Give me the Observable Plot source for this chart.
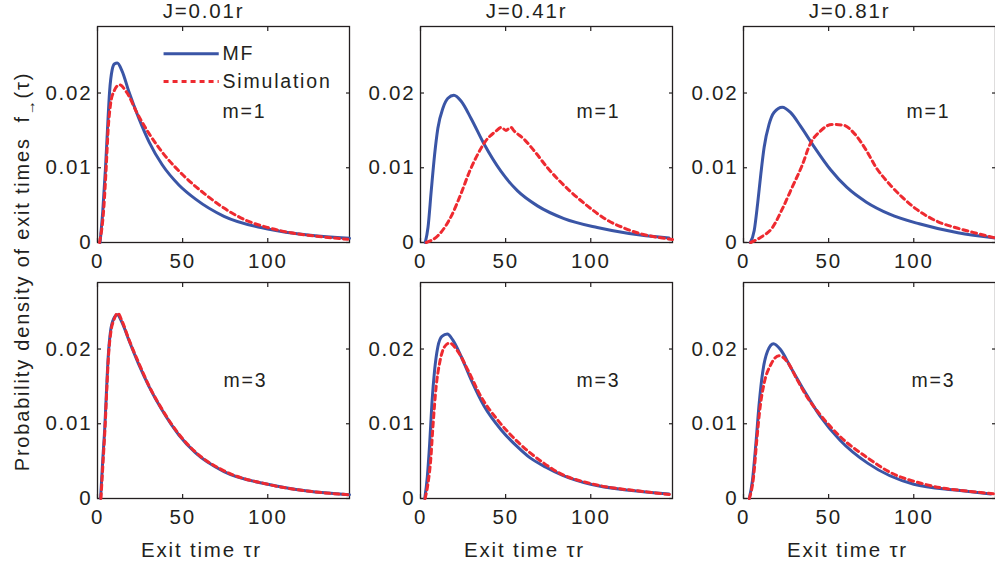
<!DOCTYPE html>
<html>
<head>
<meta charset="utf-8">
<script src="https://cdn.jsdelivr.net/npm/d3@7"></script>
<script src="https://cdn.jsdelivr.net/npm/@observablehq/plot@0.6"></script>
<style>
  html, body { margin: 0; padding: 0; background: #fff; }
  #chart { width: 995px; height: 569px; overflow: hidden; }
</style>
</head>
<body>
<div id="chart"></div>
<script>
// ---- categories ----
const Jlabels = ["0.01", "0.41", "0.81"];
const mValues = [1, 3];
const xTicks = [0, 50, 100];
const yTicks = [0, 0.01, 0.02];

// ---- series values: [tau*r, density] ----
const mf_J001_m1 = [[1.5,0],[3.1,0.0042],[4.7,0.0100],[5.9,0.0153],[7.1,0.0202],[8.6,0.0231],[10,0.0239],[11.6,0.0240],[14.5,0.0229],[18.4,0.0202],[24.3,0.0166],[30.2,0.0135],[38,0.0104],[47.8,0.0077],[57.6,0.0058],[74.3,0.0035],[100,0.0018],[125,0.00096],[148,0.00056]];
const sim_J001_m1 = [[1.2,0],[3.7,0.0046],[5.1,0.0100],[6.3,0.0153],[7.6,0.0184],[9.6,0.0202],[12.9,0.0211],[17.4,0.0200],[23.3,0.0173],[30.2,0.0146],[39,0.0118],[50.8,0.0089],[63.5,0.0064],[74.3,0.0046],[88,0.0029],[100,0.0020],[113.5,0.0013],[130,0.0008],[147,0.00043]];

const mf_J041_m1 = [[2.8,0],[4.4,0.0020],[6.3,0.0069],[8.3,0.0118],[10.2,0.0153],[13.2,0.0180],[16.1,0.0193],[19.6,0.0197],[23.9,0.0189],[29.7,0.0166],[37.5,0.0131],[47.3,0.0095],[57,0.0069],[68.7,0.0049],[84.3,0.0032],[103.8,0.0020],[122.5,0.0012],[146,0.0006]];
const sim_J041_m1 = [[3.4,0],[10.2,0.0009],[18,0.0035],[23.9,0.0066],[28.8,0.0095],[33.6,0.0118],[38,0.0135],[44.3,0.0149],[47.5,0.0154],[50.2,0.0150],[53,0.0154],[55.1,0.0149],[60.9,0.0138],[67.7,0.0120],[74.6,0.0100],[81.4,0.0083],[88.2,0.0068],[98,0.0049],[108.9,0.0031],[120,0.0019],[130.3,0.0011],[142,0.0006],[148,0.0004]];

const mf_J081_m1 = [[4,0],[6.3,0.0016],[8.3,0.0052],[10.2,0.0092],[12.1,0.0127],[15,0.0158],[17.9,0.0174],[22.8,0.0181],[27.6,0.0174],[33.4,0.0156],[41.2,0.0129],[50.9,0.0098],[60.6,0.0074],[72.2,0.0054],[85.8,0.0038],[103.2,0.0025],[125.9,0.0013],[148,0.0006]];
const sim_J081_m1 = [[4.2,0],[10.2,0.0007],[17,0.0020],[22.8,0.0045],[28.6,0.0074],[34.4,0.0103],[39.2,0.0132],[45.1,0.0149],[51.9,0.0158],[58.6,0.0157],[65.4,0.0145],[72.2,0.0123],[78,0.0100],[85.8,0.0078],[93.5,0.0060],[101.3,0.0045],[114,0.0028],[125.9,0.0019],[137.5,0.0012],[148,0.0006]];

const mf_J001_m3 = [[1.8,0],[3.1,0.0052],[4.3,0.0096],[5.3,0.0145],[6.3,0.0190],[7.6,0.0223],[9.6,0.0241],[11.6,0.0246],[14.5,0.0235],[18.4,0.0212],[24.3,0.0179],[30.2,0.0150],[38,0.0118],[47.8,0.0085],[57.6,0.0061],[74.3,0.0036],[100,0.0019],[123.3,0.0010],[148,0.0005]];
const sim_J001_m3 = [[2,0],[3.3,0.0050],[4.5,0.0098],[5.5,0.0148],[6.5,0.0192],[7.8,0.0222],[9.8,0.0240],[11.8,0.0248],[14.5,0.0237],[18.4,0.0213],[24.3,0.0181],[30.2,0.0151],[38,0.0119],[47.8,0.0086],[57.6,0.0062],[74.3,0.0037],[100,0.0019],[123.3,0.0010],[148,0.0005]];

const mf_J041_m3 = [[2.5,0],[4,0.0029],[5.4,0.0074],[6.7,0.0127],[8.3,0.0172],[10.2,0.0203],[12.6,0.0217],[15.7,0.0220],[19,0.0212],[23.9,0.0190],[29.7,0.0159],[37.5,0.0123],[47.3,0.0092],[57,0.0069],[64,0.0055],[73.6,0.0042],[83.5,0.0031],[100,0.0019],[122.5,0.0011],[146,0.0006]];
const sim_J041_m3 = [[2.7,0],[4.4,0.0020],[6,0.0052],[7.3,0.0096],[9.2,0.0150],[11.2,0.0181],[14.1,0.0203],[17.1,0.0208],[21.9,0.0197],[27.8,0.0172],[35.6,0.0136],[45.3,0.0105],[57,0.0076],[72.6,0.0047],[81.6,0.0034],[100,0.0020],[132.3,0.0009],[148,0.0005]];

const mf_J081_m3 = [[3.4,0],[5.3,0.0025],[7.3,0.0074],[9.2,0.0127],[11.2,0.0168],[14.1,0.0197],[17.6,0.0207],[21.8,0.0199],[27.6,0.0176],[35.4,0.0145],[45.1,0.0110],[56.7,0.0078],[73.1,0.0047],[100,0.0019],[125.9,0.0011],[145.2,0.0006]];
const sim_J081_m3 = [[3.4,0],[5.9,0.0029],[7.8,0.0078],[9.8,0.0123],[12.1,0.0154],[16,0.0179],[20.8,0.0191],[25.7,0.0183],[31.5,0.0159],[37.3,0.0136],[45.1,0.0112],[56.7,0.0083],[73.1,0.0054],[85.3,0.0036],[106.5,0.0019],[139.4,0.0008],[148,0.0006]];

// ---- text labels ----
const seriesNames = ["MF", "Simulation"];
const xLabel = "Exit time \u03c4r";
const yLabel = "Probability density of exit times\u00a0\u00a0f\u2192(\u03c4)";

// ---- build the table ----
const seriesList = [
  {J: "0.01", m: 1, kind: "MF", pts: mf_J001_m1}, {J: "0.01", m: 1, kind: "Simulation", pts: sim_J001_m1},
  {J: "0.41", m: 1, kind: "MF", pts: mf_J041_m1}, {J: "0.41", m: 1, kind: "Simulation", pts: sim_J041_m1},
  {J: "0.81", m: 1, kind: "MF", pts: mf_J081_m1}, {J: "0.81", m: 1, kind: "Simulation", pts: sim_J081_m1},
  {J: "0.01", m: 3, kind: "MF", pts: mf_J001_m3}, {J: "0.01", m: 3, kind: "Simulation", pts: sim_J001_m3},
  {J: "0.41", m: 3, kind: "MF", pts: mf_J041_m3}, {J: "0.41", m: 3, kind: "Simulation", pts: sim_J041_m3},
  {J: "0.81", m: 3, kind: "MF", pts: mf_J081_m3}, {J: "0.81", m: 3, kind: "Simulation", pts: sim_J081_m3}
];
const rows = seriesList.flatMap(s => s.pts.map(([t, f]) => ({J: s.J, m: s.m, kind: s.kind, key: s.J + "-" + s.m + "-" + s.kind, t, f})));
const mfRows = rows.filter(d => d.kind === "MF");
const simRows = rows.filter(d => d.kind === "Simulation");

// ---- styles / layout ----
const BLUE = "#3a55a6", RED = "#ee2a30", INK = "#231f20";
const noteLayout = [
  {J: "0.01", m: 1, dx: 125, dy: 85},
  {J: "0.41", m: 1, dx: 156, dy: 85},
  {J: "0.81", m: 1, dx: 163, dy: 85},
  {J: "0.01", m: 3, dx: 126, dy: 98},
  {J: "0.41", m: 3, dx: 156, dy: 98},
  {J: "0.81", m: 3, dx: 168, dy: 98}
];
const legendLayout = {x1: 38.8, x2: 71.2, yMF: 0.02527, ySim: 0.02153, textDx: 125, dyMF: 27, dySim: 55};

const fmtY = d => d === 0 ? "0" : d.toFixed(2);
const axisCommon = {facetAnchor: null, label: null, color: INK};

const marks = [
  Plot.frame({stroke: INK, strokeWidth: 1.3}),
  // inward ticks on all four sides
  Plot.axisX(xTicks, {...axisCommon, anchor: "bottom", tickSize: -4, fill: "none", strokeWidth: 1.2}),
  Plot.axisX(xTicks, {...axisCommon, anchor: "top", tickSize: -4, fill: "none", strokeWidth: 1.2}),
  Plot.axisY(yTicks, {...axisCommon, anchor: "left", tickSize: -4, fill: "none", strokeWidth: 1.2}),
  Plot.axisY(yTicks, {...axisCommon, anchor: "right", tickSize: -4, fill: "none", strokeWidth: 1.2}),
  // tick labels
  Plot.axisX(xTicks, {...axisCommon, anchor: "bottom", tickSize: 0, tickPadding: 11, stroke: "none", fontSize: 20.5}),
  Plot.axisY(yTicks, {...axisCommon, anchor: "left", tickSize: 0, tickPadding: 5, stroke: "none", fontSize: 20.5, tickFormat: fmtY}),
  // curves
  Plot.line(mfRows, {x: "t", y: "f", z: "key", fx: "J", fy: "m", stroke: BLUE, strokeWidth: 3, curve: "monotone-x"}),
  Plot.line(simRows, {x: "t", y: "f", z: "key", fx: "J", fy: "m", stroke: RED, strokeWidth: 3, strokeDasharray: "5,4", curve: "monotone-x"}),
  // column titles
  Plot.text(Jlabels, {fx: d => d, fy: () => 1, text: d => "J=" + d + "r", frameAnchor: "top-left", dx: 106, dy: -9, lineAnchor: "bottom", textAnchor: "middle", fontSize: 20.5, fill: INK}),
  // x-axis label under bottom row
  Plot.text(Jlabels, {fx: d => d, fy: () => 3, text: () => xLabel, frameAnchor: "bottom-left", dx: 104, dy: 52, lineAnchor: "middle", textAnchor: "middle", fontSize: 20.5, fill: INK}),
  // y-axis label
  Plot.text([yLabel], {fx: () => "0.01", fy: () => 1, text: d => d, frameAnchor: "left", rotate: -90, dx: -75, dy: 137, lineAnchor: "middle", textAnchor: "middle", fontSize: 20, fill: INK}),
  // legend
  Plot.link([seriesNames[0]], {fx: () => "0.01", fy: () => 1, x1: () => legendLayout.x1, x2: () => legendLayout.x2, y1: () => legendLayout.yMF, y2: () => legendLayout.yMF, stroke: BLUE, strokeWidth: 3}),
  Plot.link([seriesNames[1]], {fx: () => "0.01", fy: () => 1, x1: () => legendLayout.x1, x2: () => legendLayout.x2, y1: () => legendLayout.ySim, y2: () => legendLayout.ySim, stroke: RED, strokeWidth: 3, strokeDasharray: "5,4"}),
  Plot.text([seriesNames[0]], {fx: () => "0.01", fy: () => 1, text: d => d, frameAnchor: "top-left", dx: legendLayout.textDx, dy: legendLayout.dyMF, textAnchor: "start", lineAnchor: "middle", fontSize: 19.5, fill: INK}),
  Plot.text([seriesNames[1]], {fx: () => "0.01", fy: () => 1, text: d => d, frameAnchor: "top-left", dx: legendLayout.textDx, dy: legendLayout.dySim, textAnchor: "start", lineAnchor: "middle", fontSize: 19.5, fill: INK}),
  // panel notes m=1 / m=3
  ...noteLayout.map(n => Plot.text([n], {fx: "J", fy: "m", text: d => "m=" + d.m, frameAnchor: "top-left", dx: n.dx, dy: n.dy, textAnchor: "start", lineAnchor: "middle", fontSize: 19.5, fill: INK}))
];

const chart = Plot.plot({
  width: 995,
  height: 569,
  marginLeft: 97,
  marginRight: 0,
  marginTop: 25,
  marginBottom: 71,
  style: {fontFamily: "'Liberation Sans', Arial, Helvetica, sans-serif", fontSize: "20px", color: INK, background: "#fff", letterSpacing: "1.8px", overflow: "visible"},
  x: {domain: [0, 148]},
  y: {domain: [0, 0.0289]},
  fx: {domain: Jlabels, paddingInner: 0.22, paddingOuter: 0, axis: null},
  fy: {domain: mValues, paddingInner: 0.158, paddingOuter: 0, axis: null},
  marks
});

// subscript arrow in the y label
d3.select(chart).selectAll("text").each(function() {
  const t = this.textContent;
  if (t && t.startsWith("Probability")) {
    const el = d3.select(this);
    const [head, tail] = t.split("f\u2192");
    el.text(null);
    el.append("tspan").text(head + "f");
    el.append("tspan").attr("dy", 6).attr("font-size", 15).text("\u2192");
    el.append("tspan").attr("dy", -6).text(tail);
  }
});

document.getElementById("chart").appendChild(chart);
</script>
</body>
</html>
